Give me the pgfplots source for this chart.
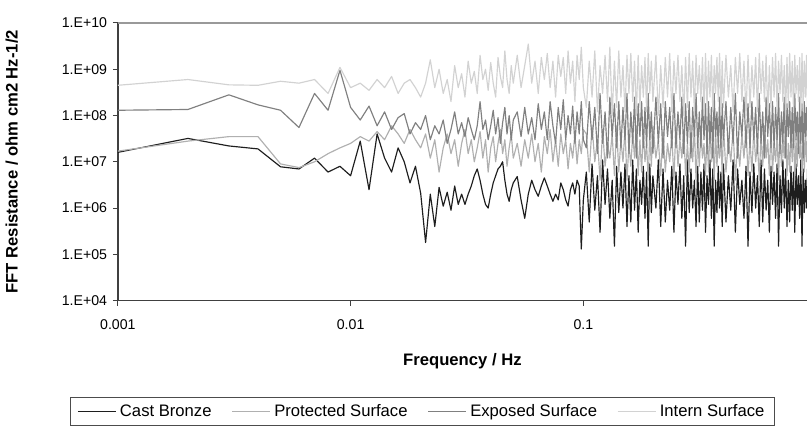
\documentclass[border=0pt]{standalone}
\usepackage{fontspec}
\setmainfont{Liberation Sans}
\usepackage{pgfplots}
\usepackage{pgfplotstable}
\pgfplotsset{compat=1.18}

\definecolor{cbcol}{HTML}{1E1E1E}
\definecolor{pscol}{HTML}{B0B0B0}
\definecolor{escol}{HTML}{808080}
\definecolor{iscol}{HTML}{D2D2D2}

% f = frequency (Hz); cb = Cast Bronze, ps = Protected, es = Exposed, is = Intern
\pgfplotstableread{
f cb ps es is
0.001 1.6e7 1.7e7 1.3e8 4.5e8
0.002 3.2e7 2.8e7 1.35e8 6e8
0.003 2.2e7 3.5e7 2.8e8 4.6e8
0.004 1.9e7 3.5e7 1.7e8 4.5e8
0.005 7.8e6 9e6 1.3e8 5.5e8
0.006 7e6 7.5e6 5.5e7 5e8
0.007 1.2e7 1e7 3e8 6e8
0.008 6e6 1.5e7 1.3e8 3e8
0.009 8e6 2e7 9.5e8 1.1e9
0.010 5e6 2.5e7 1.5e8 4e8
0.011 2.8e7 3.5e7 8e7 5e8
0.012 2.5e6 2.8e7 1.6e8 3.5e8
0.013 4e7 4.5e7 6e7 6e8
0.014 1.2e7 3e7 1.2e8 4e8
0.015 6e6 6e7 5e7 7e8
0.016 2e7 4e7 9e7 3e8
0.017 1e7 2.5e7 1.1e8 5e8
0.018 3.5e6 5e7 4e7 6e8
0.019 8e6 3e7 7e7 4e8
0.020 2.1e6 2e7 5e7 2.5e8
0.021 1.8e5 4e7 1e8 5e8
0.022 2e6 1.2e7 3e7 1.6e9
0.023 4e5 3e7 6e7 4e8
0.024 2.8e6 6e6 4e7 1e9
0.025 1.1e6 2e7 8e7 3e8
0.026 2.2e6 4e7 2.5e7 6e8
0.027 9e5 1.5e7 5e7 2e8
0.028 3e6 3e7 1.2e8 1.2e9
0.029 1.2e6 8e6 4e7 4e8
0.030 2e6 2.5e7 7e7 8e8
0.031 1.2e6 5e7 3.5e7 2.5e8
0.032 2e6 1.5e7 9e7 1.5e9
0.033 3e6 3e7 5e7 5e8
0.034 5e6 1e7 3e7 9e8
0.035 7e6 2e7 6e7 3e8
0.036 4e6 4.5e7 2e8 2e9
0.037 2e6 1.2e7 5e7 6e8
0.038 1.2e6 3e7 8e7 1e9
0.039 1e6 6e6 3e7 3.5e8
0.040 2e6 2e7 6e7 1.4e9
0.041 3.5e6 3.5e7 1.3e8 5e8
0.042 5e6 1e7 4e7 2.5e8
0.043 7e6 2.5e7 9e7 1.8e9
0.044 8e6 5e7 2.5e7 7e8
0.045 1e7 1.5e7 7e7 4e8
0.046 4e6 3e7 1.5e8 2.5e9
0.047 2e6 8e6 4e7 6e8
0.048 1.4e6 2e7 1e8 3e8
0.049 2.5e6 4e7 3e7 1.2e9
0.050 3.5e6 1.2e7 8e7 5e8
0.052 4.8e6 2.5e7 1.2e8 2e9
0.054 1.5e6 8e6 3.5e7 4e8
0.056 6e5 3e7 1.5e8 1.2e9
0.058 2e6 1.2e7 4e7 3.5e9
0.060 4e6 4e7 9e7 5e8
0.062 2.5e6 1e7 3e7 1.5e9
0.064 1.8e6 2.5e7 1.8e8 3e8
0.066 3e6 6e6 5e7 1.8e9
0.068 4.5e6 3.5e7 1.2e8 6e8
0.070 3e6 1.5e7 3e7 2.2e9
0.072 2e6 5e7 2e8 4e8
0.074 1.4e6 1e7 6e7 1.5e9
0.076 2e6 3e7 2.5e7 2.5e8
0.078 1.5e6 8e6 1.5e8 2e9
0.080 3.5e6 4e7 5e7 7e8
0.082 2.5e6 1.5e7 2.2e8 1.8e9
0.084 1.5e6 3e7 3e7 3e8
0.086 1.1e6 7e6 1e8 2.5e9
0.088 2.5e6 2.5e7 4e7 5e8
0.090 3.5e6 1.2e7 1.6e8 1.5e9
0.092 2e6 4e7 2.5e7 2e8
0.094 4e6 9e6 1.2e8 2e9
0.096 3e6 3e7 4e7 6e8
0.098 1.3e5 1.5e7 2e8 3e9
0.100 1.5e6 5e7 3e7 4e8
0.103 6e6 4e7 2e7 1.5e8
0.106 5e5 6e6 2e8 1.5e9
0.109 9e6 6e7 3e7 2.5e8
0.112 9e5 1e7 1.5e8 2.5e9
0.115 5e6 3e7 1.5e7 1.2e8
0.118 3e5 4e6 3e8 1.2e9
0.121 1.1e7 5e7 2.5e7 3e8
0.124 1.2e6 8e6 1.2e8 2e9
0.127 7e6 2.5e7 1.2e7 2e8
0.130 6e5 1.2e7 2.5e8 3e9
0.133 4e6 4e7 3.5e7 1e8
0.136 1.5e5 5e6 1.8e8 1.5e9
0.139 8e6 6e7 2e7 1.5e8
0.142 8e5 6e6 2e8 2.5e9
0.145 6e6 3e7 2e7 2.5e8
0.148 1e6 1e7 1.5e8 1.2e9
0.151 9e6 5e7 3e7 1.2e8
0.154 4e5 4e6 3e8 2e9
0.157 5e6 2.5e7 1.5e7 3e8
0.160 5e5 8e6 1.2e8 2.2e9
0.163 1.1e7 4e7 2.5e7 2e8
0.166 9e5 1.2e7 2.5e8 1.5e9
0.169 7e6 6e7 1.2e7 1e8
0.172 3e5 5e6 1.8e8 2e9
0.175 4e6 3e7 3.5e7 1.5e8
0.178 1.2e6 6e6 2e8 1.2e9
0.181 8e6 5e7 2e7 2.5e8
0.184 6e5 1e7 1.5e8 1.8e9
0.187 6e6 2.5e7 2e7 1.2e8
0.190 1.5e5 4e6 3e8 2.2e9
0.193 9e6 4e7 3e7 3e8
0.196 8e5 8e6 1.2e8 1.5e9
0.199 5e6 6e7 1.5e7 2e8
0.205 1e6 1.2e7 2.5e8 2e9
0.210 1.1e7 3e7 2.5e7 1e8
0.215 4e5 5e6 1.8e8 1.2e9
0.220 7e6 5e7 1.2e7 1.5e8
0.225 5e5 6e6 2e8 1.8e9
0.230 4e6 2.5e7 3.5e7 2.5e8
0.235 9e5 1e7 1.5e8 2.2e9
0.240 8e6 4e7 2e7 1.2e8
0.245 3e5 4e6 3e8 1.5e9
0.250 6e6 6e7 2e7 3e8
0.255 1.2e6 8e6 1.2e8 2e9
0.260 9e6 3e7 3e7 2e8
0.265 6e5 1.2e7 2.5e8 1.2e9
0.270 5e6 5e7 1.5e7 1e8
0.275 1.5e5 5e6 1.8e8 1.8e9
0.280 1.1e7 2.5e7 2.5e7 1.5e8
0.285 8e5 6e6 2e8 2.2e9
0.290 7e6 4e7 1.2e7 2.5e8
0.295 1e6 1e7 1.5e8 1.5e9
0.300 4e6 6e7 3.5e7 1.2e8
0.305 4e5 4e6 3e8 2e9
0.310 8e6 3e7 2e7 3e8
0.315 5e5 8e6 1.2e8 1.2e9
0.320 6e6 5e7 2e7 2e8
0.325 9e5 1.2e7 2.5e8 1.8e9
0.330 9e6 2.5e7 3e7 1e8
0.335 3e5 5e6 1.8e8 2.2e9
0.340 5e6 4e7 1.5e7 1.5e8
0.345 1.2e6 6e6 2e8 1.5e9
0.350 1.1e7 6e7 2.5e7 2.5e8
0.355 6e5 1e7 1.5e8 2e9
0.360 7e6 3e7 1.2e7 1.2e8
0.365 1.5e5 4e6 3e8 1.2e9
0.370 4e6 5e7 3.5e7 3e8
0.375 8e5 8e6 1.2e8 1.8e9
0.380 8e6 2.5e7 2e7 2e8
0.385 1e6 1.2e7 2.5e8 2.2e9
0.390 6e6 4e7 2e7 1e8
0.395 4e5 5e6 1.8e8 1.5e9
0.400 9e6 6e7 3e7 1.5e8
0.410 5e5 6e6 2e8 2e9
0.420 5e6 3e7 1.5e7 2.5e8
0.430 9e5 1e7 1.5e8 1.2e9
0.440 1.1e7 5e7 2.5e7 1.2e8
0.450 3e5 4e6 3e8 1.8e9
0.460 7e6 2.5e7 1.2e7 3e8
0.470 1.2e6 8e6 1.2e8 2.2e9
0.480 4e6 4e7 3.5e7 2e8
0.490 6e5 1.2e7 2.5e8 1.5e9
0.500 8e6 6e7 2e7 1e8
0.510 1.5e5 5e6 1.8e8 2e9
0.520 6e6 3e7 2e7 1.5e8
0.530 8e5 6e6 2e8 1.2e9
0.540 9e6 5e7 3e7 2.5e8
0.550 1e6 1e7 1.5e8 1.8e9
0.560 5e6 2.5e7 1.5e7 1.2e8
0.570 4e5 4e6 3e8 2.2e9
0.580 1.1e7 4e7 2.5e7 3e8
0.590 5e5 8e6 1.2e8 1.5e9
0.600 7e6 6e7 1.2e7 2e8
0.610 9e5 1.2e7 2.5e8 2e9
0.620 4e6 3e7 3.5e7 1e8
0.630 3e5 5e6 1.8e8 1.2e9
0.640 8e6 5e7 2e7 1.5e8
0.650 1.2e6 6e6 2e8 1.8e9
0.660 6e6 2.5e7 2e7 2.5e8
0.670 6e5 1e7 1.5e8 2.2e9
0.680 9e6 4e7 3e7 1.2e8
0.690 1.5e5 4e6 3e8 1.5e9
0.700 5e6 6e7 1.5e7 3e8
0.710 8e5 8e6 1.2e8 2e9
0.720 1.1e7 3e7 2.5e7 2e8
0.730 1e6 1.2e7 2.5e8 1.2e9
0.740 7e6 5e7 1.2e7 1e8
0.750 4e5 5e6 1.8e8 1.8e9
0.760 4e6 2.5e7 3.5e7 1.5e8
0.770 5e5 6e6 2e8 2.2e9
0.780 8e6 4e7 2e7 2.5e8
0.790 9e5 1e7 1.5e8 1.5e9
0.800 6e6 6e7 2e7 1.2e8
0.810 3e5 4e6 3e8 2e9
0.820 9e6 3e7 3e7 3e8
0.830 1.2e6 8e6 1.2e8 1.2e9
0.840 5e6 5e7 1.5e7 2e8
0.850 6e5 1.2e7 2.5e8 1.8e9
0.860 1.1e7 2.5e7 2.5e7 1e8
0.870 1.5e5 5e6 1.8e8 2.2e9
0.880 7e6 4e7 1.2e7 1.5e8
0.890 8e5 6e6 2e8 1.5e9
0.900 4e6 6e7 3.5e7 2.5e8
0.910 1e6 1e7 1.5e8 2e9
0.920 8e6 3e7 2e7 1.2e8
}\data

\begin{document}
\begin{tikzpicture}
\begin{axis}[
  name=ax,
  width=414pt, height=166.8pt, scale only axis,
  xmode=log, ymode=log,
  xmin=0.001, xmax=0.914, ymin=1e4, ymax=1e10,
  axis x line*=bottom, axis y line*=left,
  axis line style={draw=black!75, line width=0.9pt},
  xtick={0.001,0.01,0.1}, xticklabels={0.001,0.01,0.1},
  ytick={1e4,1e5,1e6,1e7,1e8,1e9,1e10},
  yticklabels={1.E+04,1.E+05,1.E+06,1.E+07,1.E+08,1.E+09,1.E+10},
  xminorticks=false, yminorticks=false,
  tick align=outside, major tick length=3pt,
  tick style={draw=black!75, line width=0.6pt},
  ticklabel style={font=\fontsize{8.5}{10}\selectfont},
  xticklabel style={yshift=-4.8pt},
  extra y ticks={1e10}, extra y tick labels={},
  extra y tick style={grid=major, major tick length=0pt,
    major grid style={draw=black!40, line width=1.2pt}},
  xlabel={Frequency / Hz},
  ylabel={FFT Resistance / ohm cm2 Hz-1/2},
  xlabel style={at={(axis description cs:0.5,-0.219)}, anchor=center,
    font=\fontsize{10}{12}\selectfont\bfseries},
  ylabel style={at={(axis description cs:-0.154,0.5)}, anchor=center,
    font=\fontsize{10}{12}\selectfont\bfseries},
  legend columns=4,
  legend style={at={(axis description cs:0.442,-0.40)}, anchor=center,
    draw=black!70, line width=0.6pt, font=\fontsize{10}{12}\selectfont,
    inner xsep=4pt, inner ysep=2pt,
    /tikz/every even column/.append style={column sep=10pt}},
  legend image code/.code={\draw[#1, line width=0.7pt] (0pt,0pt) -- (23pt,0pt);},
  every axis plot/.append style={line width=0.7pt, line join=round},
]
\addplot[cbcol] table[x=f, y=cb] {\data};
\addlegendentry{Cast Bronze}
\addplot[pscol] table[x=f, y=ps] {\data};
\addlegendentry{Protected Surface}
\addplot[escol] table[x=f, y=es] {\data};
\addlegendentry{Exposed Surface}
\addplot[iscol] table[x=f, y=is] {\data};
\addlegendentry{Intern Surface}
\end{axis}
% white margin above the plot, as in the reference
\path ([yshift=13.8pt]ax.north west);
\end{tikzpicture}
\end{document}
